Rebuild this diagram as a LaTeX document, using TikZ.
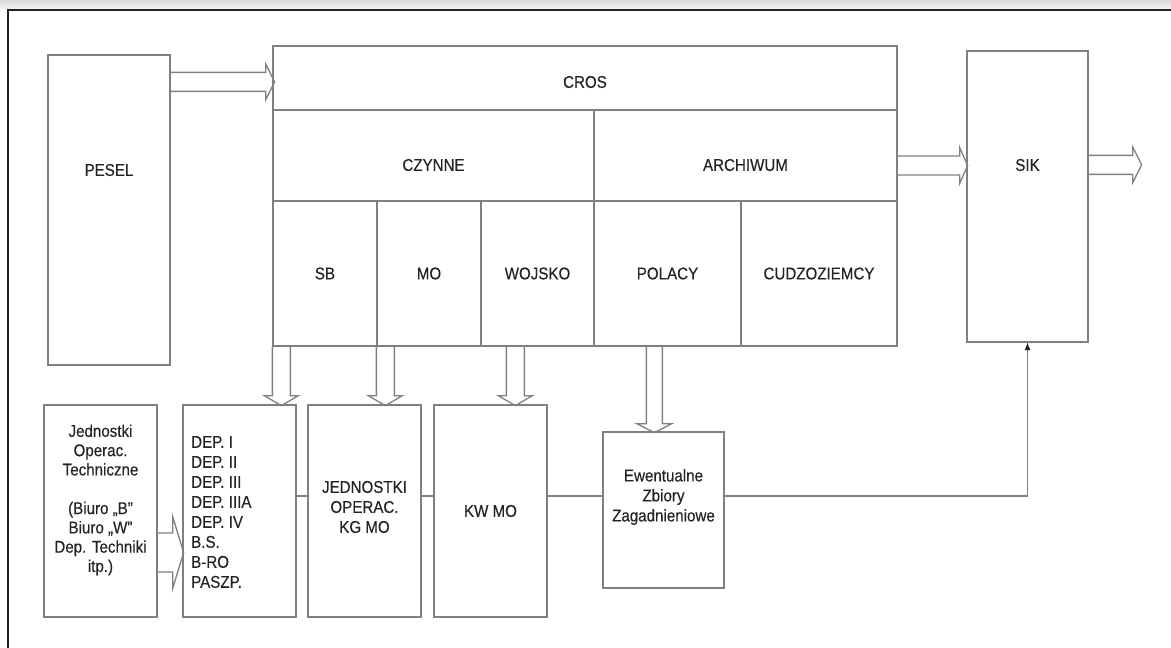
\documentclass[tikz,border=0pt]{standalone}
\usepackage{fontspec}
\setmainfont{Liberation Sans}[FakeStretch=0.89,FakeBold=0.3]
\usetikzlibrary{calc,arrows.meta}
\definecolor{ln}{RGB}{128,128,128}
\definecolor{tx}{RGB}{35,35,35}
\definecolor{fr}{RGB}{35,35,35}
\begin{document}
\begin{tikzpicture}[x=1pt,y=-1pt,
  box/.style={draw=ln,line width=1.3pt,rectangle,inner sep=0pt},
  conn/.style={draw=ln,line width=1.3pt,line join=miter},
  lbl/.style={text=tx,font=\fontsize{17}{19.3}\selectfont,inner sep=0pt},
  pics/harr/.style args={#1/#2/#3/#4}{code={\draw[conn] (0,-#2) -- (#1-#4,-#2) -- (#1-#4,-#3) -- (#1,0) -- (#1-#4,#3) -- (#1-#4,#2) -- (0,#2);}}]
\useasboundingbox (0,0) rectangle (1171,648);
\shade[top color=gray!30,bottom color=gray!8] (0,0) rectangle (1171,9);
\draw[fr,line width=2pt] (8,648) -- (8,10) -- (1171,10);

% boxes
\node[box,minimum width=122pt,minimum height=310pt] (pesel) at (109,210) {};
\node[box,minimum width=624pt,minimum height=64pt] (cros) at (585,78) {};
\node[box,minimum width=321pt,minimum height=91pt] (czynne) at (433.5,155.5) {};
\node[box,minimum width=303pt,minimum height=91pt] (archiwum) at (745.5,155.5) {};
\node[box,lbl,draw=ln,minimum width=104pt,minimum height=145pt] (sb) at (325,273.5) {SB};
\node[box,lbl,draw=ln,minimum width=104pt,minimum height=145pt] (mo) at (429,273.5) {MO};
\node[box,lbl,draw=ln,minimum width=113pt,minimum height=145pt] (wojsko) at (537.5,273.5) {WOJSKO};
\node[box,lbl,draw=ln,minimum width=147pt,minimum height=145pt] (polacy) at (667.5,273.5) {POLACY};
\node[box,lbl,draw=ln,minimum width=156pt,minimum height=145pt] (cudzo) at (819,273.5) {CUDZOZIEMCY};
\node[box,minimum width=121pt,minimum height=291pt] (sik) at (1027.5,196.5) {};
\node[box,minimum width=113pt,minimum height=212pt] (jto) at (100.5,511) {};
\node[box,minimum width=113pt,minimum height=212pt] (dep) at (239.5,511) {};
\node[box,minimum width=113pt,minimum height=212pt] (jkg) at (364.5,511) {};
\node[box,lbl,draw=ln,minimum width=113pt,minimum height=212pt] (kw) at (490.5,511) {KW MO};
\node[box,minimum width=121pt,minimum height=156pt] (ewe) at (663.5,510) {};

% labels
\node[lbl] (peselT) at (109,170) {PESEL};
\node[lbl] (crosT) at (585,82) {CROS};
\node[lbl] (czynneT) at (433.5,165) {CZYNNE};
\node[lbl] (archT) at (745.5,165) {ARCHIWUM};
\node[lbl] (sikT) at (1027.5,165) {SIK};
\node[lbl,align=center] (jtoT) at (100.5,500) {Jednostki\\Operac.\\Techniczne\\[19.3pt](Biuro „B"\\Biuro „W"\\Dep. Techniki\\itp.)};
\node[lbl,align=left,anchor=west,font=\fontsize{17}{20}\selectfont] (depT) at (191,512) {DEP. I\\DEP. II\\DEP. III\\DEP. IIIA\\DEP. IV\\B.S.\\B-RO\\PASZP.};
\node[lbl,align=center,font=\fontsize{17}{20}\selectfont] (jkgT) at (364.5,507) {JEDNOSTKI\\OPERAC.\\KG MO};
\node[lbl,align=center,font=\fontsize{17}{20}\selectfont] (eweT) at (663.5,497) {Ewentualne\\Zbiory\\Zagadnieniowe};

% hollow arrows
\pic at ($(pesel.north east)+(0,27.5)$) {harr=104/9.5/18/9};
\pic at ($(archiwum.east)+(0,10)$) {harr=70/9.5/18/8};
\coordinate (sikout) at ($(sik.north east)+(53,114.5)$);
\pic at ($(sik.north east)+(0,114.5)$) {harr=53/9.5/18/9};
\pic at ($(jto.east)+(0,41.5)$) {harr=26/19.5/36/11};
\pic[rotate=-90] at ($(sb.south west)+(9,0)$) {harr=59/9/17/10};
\pic[rotate=-90] at ($(mo.south west)+(9,0)$) {harr=59/9/17/10};
\pic[rotate=-90] at ($(wojsko.south west)+(35,0)$) {harr=59/9/17/10};
\pic[rotate=-90] at ($(polacy.south west)+(61,0)$) {harr=86/8/17.5/9};

% thin connectors
\coordinate (ly) at (0,496);
\draw[conn] (dep.east |- ly) -- (jkg.west |- ly);
\draw[conn] (jkg.east |- ly) -- (kw.west |- ly);
\draw[conn] (kw.east |- ly) -- (ewe.west |- ly);
\draw[conn,-{Latex[length=8pt,width=6pt,color=fr]},shorten >=-0.5pt] (ewe.east |- ly) -| (sik.south);
\end{tikzpicture}
\end{document}
